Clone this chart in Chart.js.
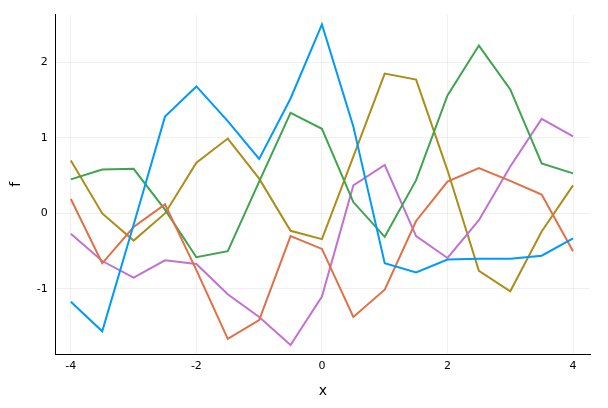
<!DOCTYPE html>
<html>
<head>
<script src="https://cdn.jsdelivr.net/npm/chart.js@4"></script>
<style>
  body { margin: 0; background: #fff; }
  #wrap { width: 608px; height: 408px; }
</style>
</head>
<body>
<div id="wrap"><canvas id="chart" width="608" height="408"></canvas></div>
<script>
const xs = [-4, -3.5, -3, -2.5, -2, -1.5, -1, -0.5, 0, 0.5, 1, 1.5, 2, 2.5, 3, 3.5, 4];
const y1 = [-1.17, -1.56, -0.15, 1.28, 1.68, 1.22, 0.72, 1.52, 2.5, 1.15, -0.66, -0.78, -0.61, -0.6, -0.6, -0.56, -0.33];
const y2 = [0.19, -0.66, -0.18, 0.12, -0.75, -1.66, -1.41, -0.3, -0.47, -1.37, -1.01, -0.1, 0.42, 0.6, 0.43, 0.25, -0.5];
const y3 = [0.45, 0.58, 0.59, 0.05, -0.58, -0.5, 0.42, 1.33, 1.12, 0.15, -0.31, 0.44, 1.56, 2.22, 1.64, 0.66, 0.53];
const y4 = [-0.27, -0.63, -0.85, -0.62, -0.67, -1.07, -1.37, -1.74, -1.1, 0.37, 0.64, -0.3, -0.59, -0.09, 0.62, 1.25, 1.02];
const y5 = [0.7, 0.0, -0.36, 0.0, 0.67, 0.99, 0.46, -0.23, -0.34, 0.75, 1.85, 1.77, 0.57, -0.76, -1.03, -0.24, 0.37];
const colors = ['#009AFA', '#E26F46', '#3EA44E', '#C271D2', '#AC8D18'];
const series = [y1, y2, y3, y4, y5];

const datasets = series.map((ys, i) => ({
  data: xs.map((x, j) => ({ x: x, y: ys[j] })),
  borderColor: colors[i],
  borderWidth: 2,
  pointRadius: 0,
  tension: 0,
  fill: false
}));

new Chart(document.getElementById('chart').getContext('2d'), {
  type: 'line',
  data: { datasets: datasets },
  options: {
    responsive: false,
    animation: false,
    layout: { padding: { top: 10, right: 18, left: 4, bottom: 4 } },
    plugins: { legend: { display: false }, tooltip: { enabled: false } },
    scales: {
      x: {
        type: 'linear', min: -4.24, max: 4.27,
        afterBuildTicks: s => { s.ticks = [-4, -2, 0, 2, 4].map(v => ({ value: v })); },
        grid: { color: 'rgba(0,0,0,0.06)', drawTicks: false },
        border: { color: '#000', width: 1 },
        ticks: { color: '#000', font: { family: 'DejaVu Sans', size: 11 }, padding: 6 },
        title: { display: true, text: 'x', color: '#000', font: { family: 'DejaVu Sans', size: 14 } }
      },
      y: {
        min: -1.86, max: 2.63,
        afterBuildTicks: s => { s.ticks = [-1, 0, 1, 2].map(v => ({ value: v })); },
        grid: { color: 'rgba(0,0,0,0.06)', drawTicks: false },
        border: { color: '#000', width: 1 },
        ticks: { color: '#000', font: { family: 'DejaVu Sans', size: 11 }, padding: 8 },
        title: { display: true, text: 'f', color: '#000', font: { family: 'DejaVu Sans', size: 14 } }
      }
    }
  }
});
</script>
</body>
</html>
